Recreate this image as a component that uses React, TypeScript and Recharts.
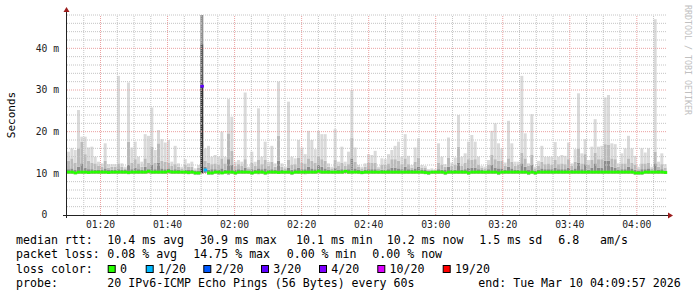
import React from 'react';
import { ComposedChart, Bar, Scatter, XAxis, YAxis, ReferenceLine, Cell, Customized } from 'recharts';

// one sample per minute, 01:10 .. 04:10 (180 steps)
const rttMin = [
  9.9, 9.9, 9.8, 9.9, 9.9, 9.9, 9.9, 9.9, 9.9, 9.9,
  9.9, 9.9, 9.9, 9.9, 9.9, 9.9, 9.9, 9.9, 9.8, 9.9,
  9.9, 9.9, 9.9, 9.9, 10.0, 9.9, 9.9, 9.9, 9.9, 9.9,
  10.0, 9.9, 9.9, 9.9, 9.9, 9.9, 9.8, 9.9, 9.7, 9.7,
  10.0, 10.1, 9.7, 9.7, 9.9, 9.7, 9.8, 9.9, 9.7, 9.9,
  9.7, 9.9, 9.9, 9.9, 9.9, 9.7, 9.9, 9.8, 9.9, 9.7,
  9.9, 9.9, 9.9, 9.9, 9.9, 9.9, 9.9, 9.7, 9.9, 9.9,
  9.9, 9.8, 9.9, 9.9, 9.9, 10.0, 9.9, 9.9, 9.9, 9.9,
  9.9, 9.9, 9.9, 10.0, 9.9, 9.9, 10.0, 9.9, 9.8, 9.9,
  9.9, 9.9, 9.9, 9.9, 9.9, 9.9, 9.9, 9.9, 9.9, 9.9,
  9.9, 9.9, 9.9, 9.9, 9.9, 9.9, 9.9, 9.8, 9.7, 9.9,
  9.9, 9.9, 9.9, 9.7, 9.9, 9.9, 9.9, 9.9, 9.9, 9.9,
  9.7, 9.9, 9.9, 9.9, 9.9, 9.9, 9.9, 9.9, 9.9, 9.7,
  9.9, 9.9, 9.9, 9.9, 9.9, 9.9, 9.9, 9.9, 9.7, 9.9,
  9.7, 9.9, 9.9, 9.9, 9.9, 9.9, 9.9, 9.9, 9.9, 9.9,
  9.9, 9.9, 9.9, 9.9, 9.9, 9.9, 9.9, 9.9, 9.9, 9.9,
  9.9, 9.9, 9.9, 9.9, 9.9, 9.9, 9.9, 9.9, 9.9, 9.9,
  9.7, 9.7, 9.7, 9.9, 9.9, 9.9, 9.9, 9.9, 9.9, 9.9,
];

const rttLow = [
  11.0, 11.2, 10.8, 11.6, 12.4, 11.4, 11.0, 11.0, 10.9, 10.8,
  10.8, 11.2, 10.8, 10.9, 10.8, 11.0, 10.8, 10.8, 12.0, 11.0,
  11.4, 11.0, 10.8, 11.6, 11.0, 12.0, 11.0, 12.6, 11.2, 11.0,
  11.2, 10.8, 11.0, 10.8, 10.7, 10.9, 10.8, 10.8, 10.6, 10.7,
  31.0, 11.6, 10.9, 11.0, 11.0, 10.8, 11.2, 10.9, 13.4, 12.0,
  10.8, 11.0, 10.8, 11.4, 10.7, 11.0, 10.8, 11.2, 11.0, 11.2,
  10.8, 11.0, 10.8, 13.0, 10.8, 10.7, 11.4, 10.9, 11.0, 11.4,
  11.0, 11.0, 11.6, 11.2, 11.0, 12.0, 11.6, 11.2, 10.8, 10.7,
  11.4, 10.8, 11.0, 10.8, 11.0, 13.6, 11.2, 10.8, 10.7, 10.8,
  11.0, 11.0, 11.0, 10.7, 10.9, 10.9, 11.0, 11.4, 11.4, 11.2,
  11.0, 11.6, 11.0, 10.8, 11.2, 11.6, 10.8, 10.8, 10.6, 10.6,
  10.6, 11.0, 10.9, 10.8, 11.6, 10.8, 10.9, 12.6, 10.8, 11.0,
  11.4, 11.4, 11.4, 11.0, 10.8, 10.7, 11.0, 12.0, 11.4, 11.2,
  11.2, 10.8, 11.6, 11.2, 10.8, 10.9, 12.4, 11.6, 10.8, 12.0,
  10.7, 10.8, 11.2, 11.0, 11.0, 11.0, 11.4, 11.0, 11.0, 11.0,
  11.4, 10.8, 11.2, 12.6, 11.0, 12.2, 10.9, 11.4, 12.4, 11.4,
  11.4, 13.0, 13.0, 11.6, 11.4, 10.8, 11.0, 11.0, 11.6, 11.2,
  10.9, 10.7, 11.0, 11.0, 11.2, 10.7, 12.4, 10.8, 11.0, 10.7,
];

const rttMid = [
  13.0, 13.6, 12.6, 16.0, 17.6, 14.6, 13.0, 12.6, 12.4, 11.8,
  11.6, 13.0, 11.4, 11.6, 11.6, 12.4, 11.6, 11.2, 17.6, 12.6,
  13.4, 12.4, 11.6, 13.6, 12.6, 16.4, 12.6, 17.2, 13.0, 12.8,
  12.6, 11.8, 12.2, 11.6, 11.2, 12.0, 11.6, 11.6, 10.8, 11.4,
  41.0, 13.0, 12.6, 12.2, 12.4, 12.0, 13.6, 12.4, 19.6, 15.4,
  11.8, 12.2, 11.8, 13.4, 11.2, 12.6, 11.8, 13.2, 12.2, 13.2,
  11.8, 12.8, 11.6, 19.0, 11.6, 11.2, 13.2, 12.0, 12.2, 13.8,
  12.6, 12.4, 13.6, 13.0, 12.6, 14.2, 13.4, 13.0, 11.6, 11.2,
  13.2, 11.8, 12.6, 11.8, 12.2, 18.6, 12.8, 11.6, 11.2, 11.6,
  12.6, 12.6, 12.6, 11.2, 12.0, 12.0, 12.4, 13.4, 13.4, 13.0,
  12.2, 13.6, 12.2, 11.4, 12.8, 13.8, 11.4, 11.4, 10.8, 10.8,
  10.8, 12.6, 12.0, 11.6, 13.8, 11.8, 12.0, 16.4, 11.8, 12.6,
  13.4, 13.2, 13.4, 12.0, 11.4, 11.2, 12.0, 14.4, 13.4, 13.0,
  13.0, 11.8, 13.6, 12.8, 11.8, 12.0, 15.0, 13.6, 11.8, 14.4,
  11.2, 11.8, 12.8, 12.2, 12.4, 12.0, 13.2, 12.2, 12.4, 12.2,
  13.4, 11.8, 12.8, 16.0, 12.4, 14.6, 12.0, 13.2, 15.0, 13.4,
  13.4, 17.0, 16.8, 13.6, 13.4, 11.6, 12.4, 12.4, 13.6, 12.6,
  12.0, 11.0, 12.4, 12.4, 12.6, 11.2, 15.2, 11.6, 12.2, 11.4,
];

const rttMax = [
  15.2, 16.0, 15.6, 25.2, 18.8, 18.8, 16.2, 16.4, 14.0, 12.8,
  12.4, 17.2, 12.2, 12.2, 12.2, 33.4, 12.4, 11.6, 31.8, 16.2,
  17.6, 14.0, 12.8, 19.4, 19.0, 25.8, 15.6, 20.4, 18.2, 17.4,
  18.0, 12.8, 16.6, 12.4, 11.6, 13.4, 12.4, 12.8, 11.2, 12.0,
  48.0, 16.0, 16.6, 14.0, 14.4, 14.0, 20.0, 14.0, 27.8, 23.6,
  12.8, 13.2, 12.8, 29.4, 11.6, 15.2, 12.8, 25.6, 14.0, 17.6,
  12.8, 16.6, 12.4, 32.0, 12.4, 11.6, 27.2, 14.0, 13.6, 18.0,
  16.2, 14.6, 20.2, 18.0, 15.8, 20.2, 19.4, 19.4, 12.4, 11.6,
  20.6, 12.8, 16.4, 12.8, 15.2, 30.0, 16.2, 12.0, 11.6, 12.4,
  14.6, 14.4, 15.4, 11.6, 13.6, 13.4, 14.6, 15.6, 16.6, 17.6,
  14.0, 19.4, 14.2, 12.0, 16.2, 18.4, 12.0, 11.8, 11.0, 11.2,
  11.0, 17.2, 14.0, 12.2, 18.6, 12.6, 13.8, 24.0, 14.0, 14.8,
  17.6, 19.2, 17.6, 14.0, 11.8, 11.6, 13.2, 20.2, 22.0, 17.2,
  16.0, 12.6, 22.6, 17.2, 12.8, 12.8, 33.4, 19.6, 12.4, 24.2,
  11.6, 13.0, 16.6, 14.0, 14.0, 14.0, 17.5, 14.0, 14.4, 14.2,
  17.4, 12.4, 15.8, 29.2, 14.8, 18.2, 13.2, 16.4, 23.0, 16.4,
  16.6, 28.2, 28.8, 17.2, 17.0, 12.4, 14.8, 16.0, 19.0, 16.0,
  14.2, 11.6, 16.0, 15.0, 16.0, 11.6, 47.0, 12.8, 14.8, 12.2,
];

const rttMedian = [
  10.3, 10.3, 10.1, 10.3, 10.3, 10.3, 10.2, 10.3, 10.3, 10.3,
  10.3, 10.3, 10.2, 10.3, 10.3, 10.3, 10.3, 10.3, 10.2, 10.3,
  10.3, 10.3, 10.3, 10.3, 10.5, 10.3, 10.3, 10.3, 10.3, 10.3,
  10.5, 10.3, 10.3, 10.3, 10.3, 10.3, 10.2, 10.3, 10.1, 10.1,
  30.9, 10.8, 10.1, 10.1, 10.3, 10.3, 10.1, 10.3, 10.3, 10.3,
  10.1, 10.3, 10.3, 10.3, 10.3, 10.1, 10.3, 10.3, 10.3, 10.1,
  10.3, 10.3, 10.3, 10.2, 10.3, 10.3, 10.3, 10.1, 10.3, 10.3,
  10.3, 10.3, 10.3, 10.3, 10.3, 10.5, 10.3, 10.3, 10.3, 10.3,
  10.3, 10.3, 10.3, 10.5, 10.3, 10.3, 10.3, 10.3, 10.2, 10.3,
  10.3, 10.3, 10.3, 10.3, 10.3, 10.3, 10.3, 10.3, 10.3, 10.3,
  10.3, 10.3, 10.3, 10.3, 10.3, 10.3, 10.3, 10.2, 10.1, 10.3,
  10.3, 10.3, 10.3, 10.1, 10.3, 10.3, 10.3, 10.3, 10.3, 10.3,
  10.1, 10.3, 10.3, 10.3, 10.3, 10.3, 10.3, 10.3, 10.3, 10.1,
  10.3, 10.3, 10.3, 10.3, 10.3, 10.3, 10.3, 10.3, 10.1, 10.3,
  10.1, 10.3, 10.3, 10.3, 10.3, 10.3, 10.3, 10.3, 10.3, 10.3,
  10.3, 10.3, 10.3, 10.3, 10.3, 10.3, 10.3, 10.3, 10.3, 10.3,
  10.3, 10.3, 10.3, 10.3, 10.3, 10.3, 10.3, 10.3, 10.3, 10.3,
  10.1, 10.1, 10.1, 10.3, 10.3, 10.3, 10.3, 10.3, 10.3, 10.2,
];

// minutes with lost pings (out of 20)
const lossEvents = [
  { minute: 40, lost: 3 },
  { minute: 41, lost: 1 },
];

const lossLevels = [0, 1, 2, 3, 4, 10, 19];
const lossLabels = ['0', '1/20', '2/20', '3/20', '4/20', '10/20', '19/20'];
const lossColors = ['#26ff00', '#00b8ff', '#0059ff', '#5e00ff', '#7e00ff', '#dd00ff', '#ff0000'];

const timeTicks = [10, 30, 50, 70, 90, 110, 130, 150, 170];
const timeLabels = ['01:20', '01:40', '02:00', '02:20', '02:40', '03:00', '03:20', '03:40', '04:00'];
const rttTicks = [0, 10, 20, 30, 40];

const minorX = Array.from({ length: 36 }, (_, k) => k * 5).filter((m) => !timeTicks.includes(m) && m > 0);
const minorY = Array.from({ length: 24 }, (_, k) => (k + 1) * 2).filter((v) => v % 10 !== 0);

const lossColor = (lost: number) => {
  let c = lossColors[0];
  lossLevels.forEach((lv, k) => {
    if (lost >= lv) c = lossColors[k];
  });
  return c;
};

const data = rttMax.map((max, i) => ({
  i,
  base: rttMin[i],
  dark: rttLow[i] - rttMin[i],
  mid: rttMid[i] - rttLow[i],
  light: max - rttMid[i],
  median: rttMedian[i],
  lost: lossEvents.find((e) => e.minute === i)?.lost ?? 0,
}));

const SPIKE = 40;
const STEP_W = 600 / 180;
const mono = 'DejaVu Sans Mono';

// one median segment per minute, coloured by packet loss
const MedianMark = (props: any) => {
  const { cx, cy, payload } = props;
  if (cx == null || cy == null) return null;
  return <rect x={cx - STEP_W / 2} y={cy - 1.4} width={STEP_W + 0.2} height={2.8} fill={lossColor(payload.lost)} />;
};

const Frame = () => (
  <g>
    <line x1={63} y1={215.5} x2={669} y2={215.5} stroke="#222" />
    <line x1={66.5} y1={218} x2={66.5} y2={11} stroke="#222" />
    <polygon points="668,212.5 673,215.5 668,218.5" fill="#9b1c1c" />
    <polygon points="63.5,12 66.5,7 69.5,12" fill="#9b1c1c" />
  </g>
);

const legendRows = [
  { y: 244, items: [[16, 'median rtt:'], [107.3, '10.4 ms avg'], [200, '30.9 ms max'], [296, '10.1 ms min'], [386.7, '10.2 ms now'], [479.3, '1.5 ms sd'], [558.3, '6.8'], [600, 'am/s']] },
  { y: 258.3, items: [[16, 'packet loss:'], [107.3, '0.08 % avg'], [193.3, '14.75 % max'], [286.7, '0.00 % min'], [372.3, '0.00 % now']] },
  { y: 286.7, items: [[16, 'probe:'], [107.3, '20 IPv6-ICMP Echo Pings (56 Bytes) every 60s'], [478.3, 'end: Tue Mar 10 04:09:57 2026']] },
];
const lossBoxX = [107.7, 145.7, 203.3, 261, 319, 377.3, 442.7];

const Overlay = () => (
  <svg width={697} height={297} style={{ position: 'absolute', left: 0, top: 0, pointerEvents: 'none' }}>
    <text x={15} y={115} transform="rotate(-90 15 115)" textAnchor="middle" fontFamily={mono} fontSize={11} fill="#000">
      Seconds
    </text>
    <text x={685} y={5} transform="rotate(90 685 5)" fontFamily={mono} fontSize={8.3} fill="#c0c0c0">
      RRDTOOL / TOBI OETIKER
    </text>
    {legendRows.map((row) =>
      row.items.map(([x, t]) => (
        <text key={`${row.y}-${x}`} x={x as number} y={row.y} fontFamily={mono} fontSize={11.6} fill="#000">
          {t}
        </text>
      ))
    )}
    <text x={16} y={272.5} fontFamily={mono} fontSize={11.6} fill="#000">loss color:</text>
    {lossLabels.map((lab, k) => (
      <g key={lab}>
        <rect x={lossBoxX[k] + 0.5} y={265.5} width={7} height={7} fill={lossColors[k]} stroke="#000" />
        <text x={lossBoxX[k] + 12.3} y={272.5} fontFamily={mono} fontSize={11.6} fill="#000">{lab}</text>
      </g>
    ))}
  </svg>
);

export default function App() {
  return (
    <div style={{ position: 'absolute', left: 0, top: 0, width: 697, height: 297, background: '#fff' }}>
      <ComposedChart
        width={697}
        height={297}
        data={data}
        margin={{ top: 15, right: 30, left: 0, bottom: 0 }}
        barCategoryGap={0}
        barGap={0}
      >
        <XAxis xAxisId="smoke" dataKey="i" type="category" hide height={0} />
        <XAxis
          xAxisId="num"
          type="number"
          domain={[0, 180]}
          ticks={timeTicks}
          tickFormatter={(v) => timeLabels[timeTicks.indexOf(v)]}
          axisLine={false}
          tickLine={false}
          tickSize={0}
          tickMargin={6}
          height={82}
          tick={{ fontFamily: mono, fontSize: 9.7, fill: '#222' }}
        />
        <YAxis
          domain={[0, 48]}
          ticks={rttTicks}
          tickFormatter={(v) => (v === 0 ? '0\u00a0\u00a0' : `${v} m`)}
          axisLine={false}
          tickLine={false}
          tickSize={0}
          tickMargin={8}
          width={67}
          allowDataOverflow
          tick={{ fontFamily: mono, fontSize: 9.7, fill: '#222' }}
        />

        <Bar xAxisId="smoke" dataKey="base" stackId="s" fill="#fff" fillOpacity={0} isAnimationActive={false} />
        <Bar xAxisId="smoke" dataKey="dark" stackId="s" fill="#8c8c8c" isAnimationActive={false}>
          {data.map((d) => (
            <Cell key={d.i} fill={d.i === SPIKE ? '#333333' : '#8c8c8c'} />
          ))}
        </Bar>
        <Bar xAxisId="smoke" dataKey="mid" stackId="s" fill="#bababa" isAnimationActive={false}>
          {data.map((d) => (
            <Cell key={d.i} fill={d.i === SPIKE ? '#5a5a5a' : '#bababa'} />
          ))}
        </Bar>
        <Bar xAxisId="smoke" dataKey="light" stackId="s" fill="#dadada" isAnimationActive={false}>
          {data.map((d) => (
            <Cell key={d.i} fill={d.i === SPIKE ? '#909090' : '#dadada'} />
          ))}
        </Bar>

        {minorY.map((v) => (
          <ReferenceLine key={`my${v}`} xAxisId="num" y={v} stroke="#c4c4c4" strokeDasharray="1 1" />
        ))}
        {minorX.map((m) => (
          <ReferenceLine key={`mx${m}`} xAxisId="num" x={m} stroke="#c4c4c4" strokeDasharray="1 1" />
        ))}
        {rttTicks.filter((v) => v > 0).map((v) => (
          <ReferenceLine key={`My${v}`} xAxisId="num" y={v} stroke="#eaa0a0" strokeDasharray="1 1" />
        ))}
        {timeTicks.map((m) => (
          <ReferenceLine key={`Mx${m}`} xAxisId="num" x={m} stroke="#eaa0a0" strokeDasharray="1 1" />
        ))}

        <Scatter xAxisId="smoke" dataKey="median" shape={MedianMark} isAnimationActive={false} />
        <Customized component={Frame} />
      </ComposedChart>
      <Overlay />
    </div>
  );
}
